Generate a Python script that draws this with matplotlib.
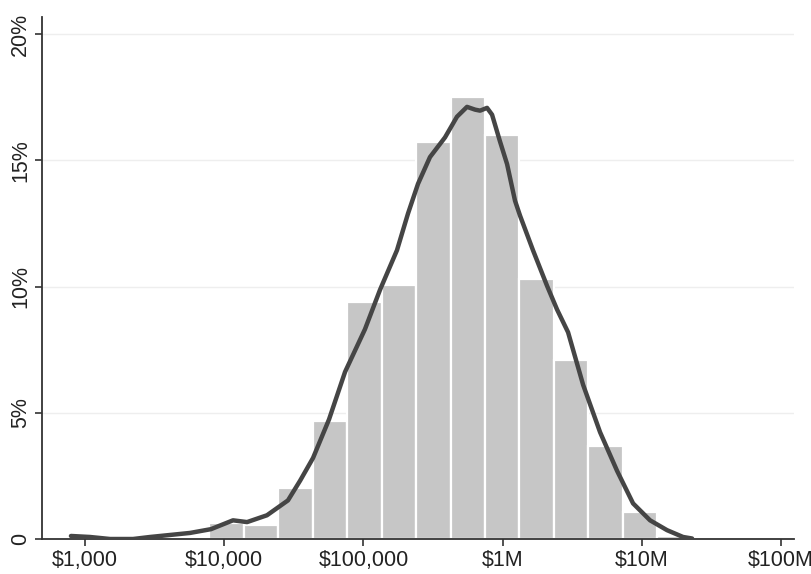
import numpy as np
import matplotlib.pyplot as plt
from matplotlib.ticker import FixedLocator, NullLocator

plt.rcParams['font.family'] = ['Liberation Sans', 'DejaVu Sans']

# histogram: share of firms (%) per bin of log10(value); bins start at 10^3.894, 0.2474 decades wide
bin_start = 3.894
bin_width = 0.2474
bin_pct = [0.63, 0.55, 2.04, 4.66, 9.37, 10.07, 15.72, 17.52,
           15.99, 10.30, 7.09, 3.68, 1.06, 0.12]

# kernel density (in %) evaluated at log10(value)
kde_log = [2.899, 3.036, 3.180, 3.345, 3.467, 3.611, 3.754, 3.905, 4.063,
           4.164, 4.307, 4.458, 4.545, 4.638, 4.753, 4.868, 5.011, 5.119,
           5.241, 5.320, 5.392, 5.478, 5.586, 5.672, 5.744, 5.802, 5.838,
           5.888, 5.924, 5.981, 6.032, 6.089, 6.125, 6.218, 6.319, 6.391,
           6.470, 6.578, 6.700, 6.822, 6.937, 7.059, 7.181, 7.296, 7.361]
kde_pct = [0.12, 0.08, 0.0, 0.0, 0.08, 0.16, 0.24, 0.39, 0.74,
           0.67, 0.94, 1.53, 2.31, 3.21, 4.74, 6.62, 8.31, 9.87,
           11.44, 12.89, 14.07, 15.13, 15.91, 16.73, 17.12, 17.01, 16.97,
           17.08, 16.81, 15.75, 14.85, 13.40, 12.81, 11.44, 10.03, 9.09,
           8.19, 6.11, 4.23, 2.70, 1.41, 0.74, 0.35, 0.08, 0.02]

xticks = [1e3, 1e4, 1e5, 1e6, 1e7, 1e8]
xlabels = ['$1,000', '$10,000', '$100,000', '$1M', '$10M', '$100M']
yticks = [0, 5, 10, 15, 20]
ylabels = ['0', '5%', '10%', '15%', '20%']

fig = plt.figure(figsize=(8.12, 5.74), dpi=100)
ax = fig.add_axes([42 / 812, 35 / 574, 752 / 812, 522.5 / 574])

edges = bin_start + bin_width * np.arange(len(bin_pct) + 1)
left = 10 ** edges[:-1]
widths = 10 ** edges[1:] - left
ax.bar(left, bin_pct, width=widths, align='edge', color='#c6c6c6',
       edgecolor='white', linewidth=1.6, zorder=2)

ax.plot(10 ** np.array(kde_log), kde_pct, color='#454545', lw=3.2,
        solid_capstyle='round', solid_joinstyle='round', zorder=3)

ax.set_xscale('log')
ax.set_xlim(10 ** 2.691, 10 ** 8.093)
ax.set_ylim(0, 20.7)

ax.xaxis.set_major_locator(FixedLocator(xticks))
ax.xaxis.set_minor_locator(NullLocator())
ax.set_xticklabels(xlabels)
ax.set_yticks(yticks)
ax.set_yticklabels(ylabels, rotation=90, va='center')

for y in yticks[1:]:
    ax.axhline(y, color='#eeeeee', lw=1.0, zorder=1)

for side in ('top', 'right'):
    ax.spines[side].set_visible(False)
for side in ('left', 'bottom'):
    ax.spines[side].set_color('#333333')
    ax.spines[side].set_linewidth(1.3)

ax.tick_params(axis='both', colors='#333333', labelcolor='#222222',
               labelsize=15.5, length=5, width=1.2, direction='out')
ax.tick_params(axis='x', pad=3)
ax.tick_params(axis='y', pad=3)

fig.savefig('out.png', dpi=100)
